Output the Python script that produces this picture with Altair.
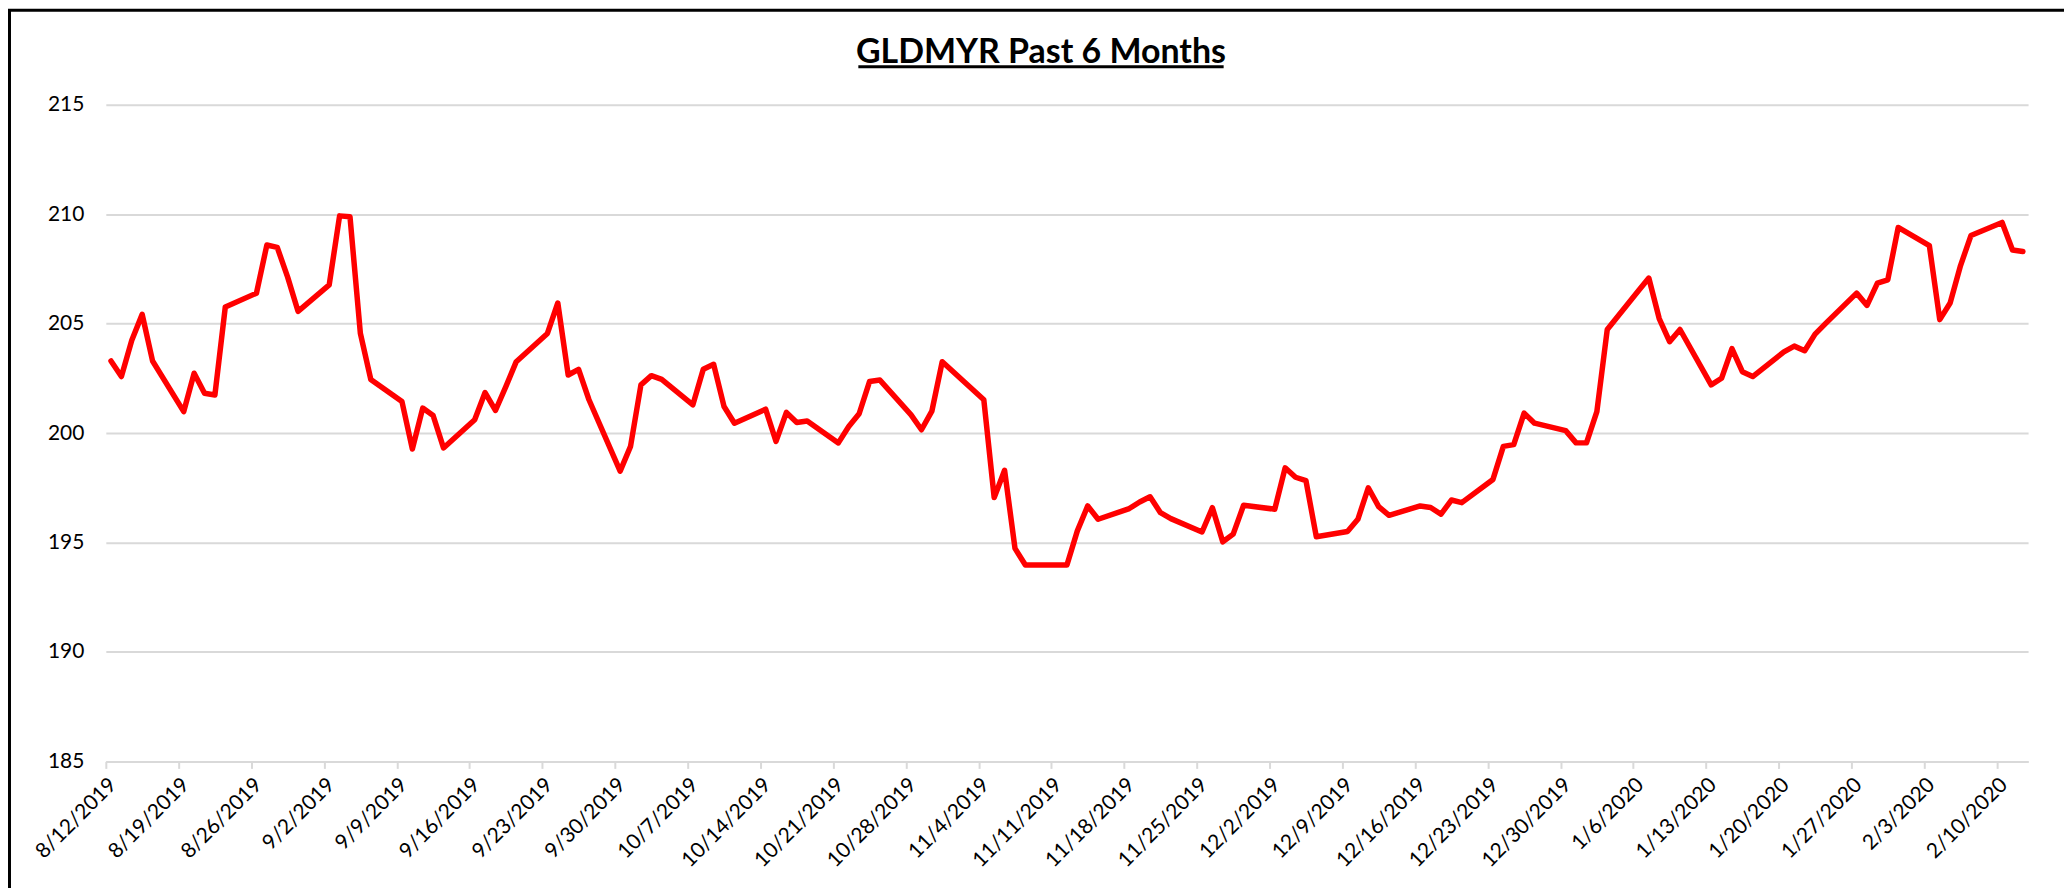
import altair as alt
import pandas as pd

# ---- data ----
dates = [
    "2019-08-12", "2019-08-13", "2019-08-14", "2019-08-15", "2019-08-16",
    "2019-08-19", "2019-08-20", "2019-08-21", "2019-08-22", "2019-08-23",
    "2019-08-26", "2019-08-27", "2019-08-28", "2019-08-29", "2019-08-30",
    "2019-09-02", "2019-09-03", "2019-09-04", "2019-09-05", "2019-09-06",
    "2019-09-09", "2019-09-10", "2019-09-11", "2019-09-12", "2019-09-13",
    "2019-09-16", "2019-09-17", "2019-09-18", "2019-09-19", "2019-09-20",
    "2019-09-23", "2019-09-24", "2019-09-25", "2019-09-26", "2019-09-27",
    "2019-09-30", "2019-10-01", "2019-10-02", "2019-10-03", "2019-10-04",
    "2019-10-07", "2019-10-08", "2019-10-09", "2019-10-10", "2019-10-11",
    "2019-10-14", "2019-10-15", "2019-10-16", "2019-10-17", "2019-10-18",
    "2019-10-21", "2019-10-22", "2019-10-23", "2019-10-24", "2019-10-25",
    "2019-10-28", "2019-10-29", "2019-10-30", "2019-10-31",
    "2019-11-04", "2019-11-05", "2019-11-06", "2019-11-07", "2019-11-08",
    "2019-11-11", "2019-11-12", "2019-11-13", "2019-11-14", "2019-11-15",
    "2019-11-18", "2019-11-19", "2019-11-20", "2019-11-21", "2019-11-22",
    "2019-11-25", "2019-11-26", "2019-11-27", "2019-11-28", "2019-11-29",
    "2019-12-02", "2019-12-03", "2019-12-04", "2019-12-05", "2019-12-06",
    "2019-12-09", "2019-12-10", "2019-12-11", "2019-12-12", "2019-12-13",
    "2019-12-16", "2019-12-17", "2019-12-18", "2019-12-19", "2019-12-20",
    "2019-12-23", "2019-12-24", "2019-12-25", "2019-12-26", "2019-12-27",
    "2019-12-30", "2019-12-31", "2020-01-01", "2020-01-02", "2020-01-03",
    "2020-01-06", "2020-01-07", "2020-01-08", "2020-01-09", "2020-01-10",
    "2020-01-13", "2020-01-14", "2020-01-15", "2020-01-16", "2020-01-17",
    "2020-01-20", "2020-01-21", "2020-01-22", "2020-01-23", "2020-01-24",
    "2020-01-27", "2020-01-28", "2020-01-29", "2020-01-30", "2020-01-31",
    "2020-02-03", "2020-02-04", "2020-02-05", "2020-02-06", "2020-02-07",
    "2020-02-10", "2020-02-11", "2020-02-12",
]
prices = [
    203.29, 202.58, 204.24, 205.42, 203.29,
    200.98, 202.73, 201.82, 201.74, 205.76,
    206.39, 208.59, 208.48, 207.12, 205.56,
    206.77, 209.92, 209.88, 204.55, 202.45,
    201.44, 199.27, 201.14, 200.80, 199.32,
    200.61, 201.85, 201.03, 202.12, 203.26,
    204.55, 205.94, 202.65, 202.91, 201.52,
    198.26, 199.39, 202.20, 202.62, 202.45,
    201.29, 202.91, 203.14, 201.21, 200.45,
    201.09, 199.62, 200.94, 200.48, 200.55,
    199.55, 200.30, 200.88, 202.35, 202.42,
    200.83, 200.15, 201.00, 203.26,
    201.52, 197.05, 198.30, 194.73, 193.97,
    193.97, 193.97, 195.53, 196.67, 196.06,
    196.55, 196.85, 197.09, 196.36, 196.09,
    195.48, 196.59, 195.03, 195.38, 196.70,
    196.52, 198.41, 197.98, 197.83, 195.26,
    195.50, 196.06, 197.50, 196.64, 196.24,
    196.67, 196.60, 196.29, 196.94, 196.82,
    197.88, 199.39, 199.47, 200.91, 200.45,
    200.11, 199.55, 199.55, 200.98, 204.73,
    206.50, 207.08, 205.23, 204.17, 204.73,
    202.20, 202.50, 203.86, 202.80, 202.58,
    203.71, 203.97, 203.76, 204.52, 205.00,
    206.39, 205.83, 206.85, 207.00, 209.39,
    208.56, 205.18, 205.94, 207.65, 209.02,
    209.62, 208.36, 208.29,
]
week_ticks = [
    "2019-08-12", "2019-08-19", "2019-08-26", "2019-09-02", "2019-09-09",
    "2019-09-16", "2019-09-23", "2019-09-30", "2019-10-07", "2019-10-14",
    "2019-10-21", "2019-10-28", "2019-11-04", "2019-11-11", "2019-11-18",
    "2019-11-25", "2019-12-02", "2019-12-09", "2019-12-16", "2019-12-23",
    "2019-12-30", "2020-01-06", "2020-01-13", "2020-01-20", "2020-01-27",
    "2020-02-03", "2020-02-10",
]
x_domain = ["2019-08-12", "2020-02-13"]
y_ticks = [185, 190, 195, 200, 205, 210, 215]
title_text = "GLDMYR Past 6 Months"

# ---- chart ----
# Excel date axis: each point sits in the middle of its day
df = pd.DataFrame({
    "date": pd.to_datetime(dates) + pd.Timedelta(hours=12),
    "price": prices,
})


def dt(s):
    t = pd.Timestamp(s)
    return alt.DateTime(year=t.year, month=t.month, date=t.day)


W, H = 1926, 658
GRID = "#d9d9d9"
FONT = "Lato"

x = alt.X(
    "date:T",
    scale=alt.Scale(domain=[dt(s) for s in x_domain], nice=False),
    axis=alt.Axis(
        values=[dt(s) for s in week_ticks],
        format="%-m/%-d/%Y",
        labelAngle=-45,
        labelAlign="right",
        labelBaseline="middle",
        labelFont=FONT,
        labelFontSize=21,
        labelColor="#000000",
        labelOverlap=False,
        labelFlush=False,
        labelBound=False,
        labelOffset=7,
        labelPadding=13,
        tickSize=7,
        tickColor=GRID,
        tickWidth=2,
        domainColor=GRID,
        domainWidth=2,
        grid=False,
        title=None,
    ),
)
y = alt.Y(
    "price:Q",
    scale=alt.Scale(domain=[y_ticks[0], y_ticks[-1]], nice=False, zero=False),
    axis=alt.Axis(
        values=y_ticks,
        grid=True,
        gridColor=GRID,
        gridWidth=2,
        domain=False,
        ticks=False,
        labelPadding=22,
        labelFont=FONT,
        labelFontSize=21,
        labelColor="#000000",
        title=None,
    ),
)

line = alt.Chart(df).mark_line(
    color="#ff0000", strokeWidth=5.5, strokeJoin="round", strokeCap="round"
).encode(x=x, y=y)

one = alt.Data(values=[{"k": 1}])

frame = alt.Chart(one).mark_rect(
    fillOpacity=0, stroke="#000000", strokeWidth=3
).encode(
    x=alt.value(-96.5), x2=alt.value(W + 300),
    y=alt.value(-94.5), y2=alt.value(H + 400),
)

title = alt.Chart(one).mark_text(
    text=title_text, font=FONT, fontWeight="bold", fontSize=34,
    align="center", baseline="alphabetic", color="#000000",
).encode(x=alt.value(937), y=alt.value(-42))

underline = alt.Chart(one).mark_rule(color="#000000", strokeWidth=3).encode(
    x=alt.value(754), x2=alt.value(1120), y=alt.value(-38)
)

chart = alt.layer(frame, line, title, underline).properties(
    width=W,
    height=H,
    padding={"left": 98, "top": 96, "right": 36, "bottom": 126},
    autosize=alt.AutoSizeParams(type="none"),
    background="#ffffff",
).configure_view(stroke=None)

chart.save("out.html", embed_options={"renderer": "svg", "actions": False})
